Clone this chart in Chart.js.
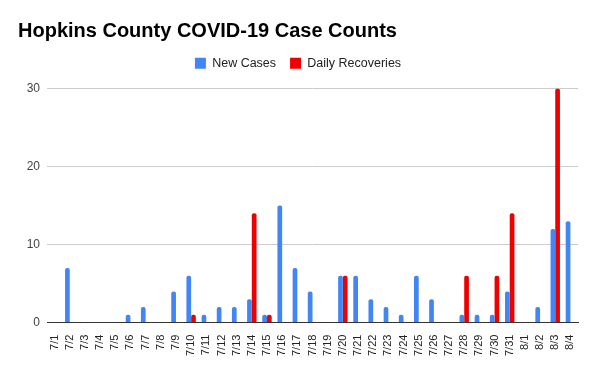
<!DOCTYPE html>
<html>
<head>
<meta charset="utf-8">
<script src="https://cdn.jsdelivr.net/npm/chart.js@4"></script>
<style>
  html, body { margin: 0; padding: 0; background: #fff; }
  #wrap { width: 600px; height: 371px; }
</style>
</head>
<body>
<div id="wrap"><canvas id="myChart"></canvas></div>
<script>
const dates = [
    '7/1', '7/2', '7/3', '7/4', '7/5', '7/6', '7/7', '7/8', '7/9', '7/10',
    '7/11', '7/12', '7/13', '7/14', '7/15', '7/16', '7/17', '7/18', '7/19', '7/20',
    '7/21', '7/22', '7/23', '7/24', '7/25', '7/26', '7/27', '7/28', '7/29', '7/30',
    '7/31', '8/1', '8/2', '8/3', '8/4'
];
const newCases = [
    0, 7, 0, 0, 0, 1, 2, 0, 4, 6,
    1, 2, 2, 3, 1, 15, 7, 4, 0, 6,
    6, 3, 2, 1, 6, 3, 0, 1, 1, 1,
    4, 0, 2, 12, 13
];
const dailyRecoveries = [
    0, 0, 0, 0, 0, 0, 0, 0, 0, 1,
    0, 0, 0, 14, 1, 0, 0, 0, 0, 6,
    0, 0, 0, 0, 0, 0, 0, 6, 0, 6,
    14, 0, 0, 30, 0
];
const yTicks = [0, 10, 20, 30];

const font = "'Liberation Sans', Arial, sans-serif";

// bars with rounded tops, like the sheets chart
function barSet(label, data, color) {
    return {
        label: label,
        data: data,
        backgroundColor: color,
        borderRadius: { topLeft: 2, topRight: 2 },
        borderSkipped: 'start',
        categoryPercentage: 0.62,
        barPercentage: 1.0
    };
}

// extra room under the legend
const legendGap = {
    id: 'legendGap',
    beforeInit(chart) {
        const fit = chart.legend.fit;
        chart.legend.fit = function () {
            fit.bind(chart.legend)();
            this.height += 9;
        };
    }
};

const ctx = document.getElementById('myChart').getContext('2d');
const myChart = new Chart(ctx, {
    type: 'bar',
    data: {
        labels: dates,
        datasets: [
            barSet('New Cases', newCases, '#4285f4'),
            barSet('Daily Recoveries', dailyRecoveries, '#ee0000')
        ]
    },
    options: {
        responsive: true,
        maintainAspectRatio: false,
        animation: false,
        layout: { padding: { left: 18, right: 22, top: 15, bottom: 11 } },
        plugins: {
            title: {
                display: true,
                text: 'Hopkins County COVID-19 Case Counts',
                align: 'start',
                color: '#000',
                font: { family: font, size: 20, weight: 'bold' },
                padding: { top: 4, bottom: 0 }
            },
            legend: {
                position: 'top',
                labels: {
                    color: '#222',
                    font: { family: font, size: 12.5 },
                    boxWidth: 11,
                    boxHeight: 11,
                    padding: 14
                }
            },
            tooltip: { enabled: false }
        },
        scales: {
            x: {
                grid: { display: false },
                border: { color: '#333' },
                ticks: {
                    color: '#222',
                    font: { family: font, size: 11 },
                    maxRotation: 90,
                    minRotation: 90,
                    autoSkip: false,
                    padding: 4
                }
            },
            y: {
                min: 0,
                max: 30,
                afterBuildTicks: axis => { axis.ticks = yTicks.map(v => ({ value: v })); },
                afterFit: axis => { axis.width = 29; },
                grid: { color: '#cccccc', drawTicks: false },
                border: { display: false },
                ticks: {
                    color: '#444',
                    font: { family: font, size: 12 },
                    padding: 7
                }
            }
        }
    },
    plugins: [legendGap]
});
</script>
</body>
</html>
